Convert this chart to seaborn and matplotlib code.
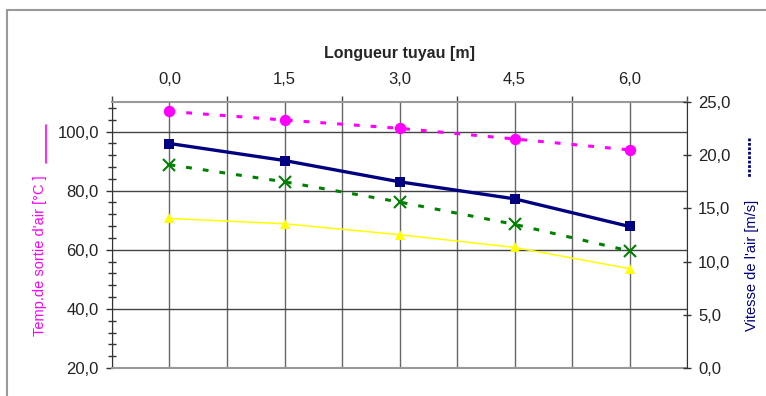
import matplotlib
matplotlib.use("Agg")
import matplotlib.pyplot as plt
import matplotlib.ticker as mticker
from matplotlib.lines import Line2D
import seaborn as sns

# data
longueur = [0.0, 1.5, 3.0, 4.5, 6.0]               # Longueur tuyau [m]
temp_sortie = [106.8, 103.9, 101.1, 97.5, 93.8]    # magenta, left axis [°C]
temp_entree = [70.6, 68.8, 65.1, 60.8, 53.6]       # yellow, left axis [°C]
vitesse_air = [21.1, 19.5, 17.5, 15.9, 13.3]       # navy, right axis [m/s]
vitesse_min = [19.1, 17.5, 15.6, 13.5, 11.0]       # green, right axis [m/s]

x_ticks = [0.0, 1.5, 3.0, 4.5, 6.0]
x_grid = [-0.75, 0.75, 2.25, 3.75, 5.25, 6.75]

sns.set_style("white")
plt.rcParams['font.family'] = ['Liberation Sans', 'DejaVu Sans']

comma = mticker.FuncFormatter(lambda v, p: f"{v:.1f}".replace('.', ','))

fig = plt.figure(figsize=(7.66, 3.96), dpi=100)
fig.patch.set_facecolor('white')
ax = fig.add_axes([0.1462, 0.0707, 0.7507, 0.6717])
ax2 = ax.twinx()

# left axis series
sns.lineplot(x=longueur, y=temp_sortie, ax=ax, color='#ff00ff', lw=2.2,
             linestyle=(0, (1.9, 3.6)), marker='o', markersize=8.2,
             markeredgecolor='#ff00ff', markeredgewidth=0)
sns.lineplot(x=longueur, y=temp_entree, ax=ax, color='#ffff00', lw=1.1,
             marker='^', markersize=7, markeredgecolor='#ffff00',
             markeredgewidth=0)

# right axis series
sns.lineplot(x=longueur, y=vitesse_air, ax=ax2, color='#000080', lw=2.4,
             marker='s', markersize=7.2, markeredgecolor='#000080',
             markeredgewidth=0)
sns.lineplot(x=longueur, y=vitesse_min, ax=ax2, color='#008000', lw=2.2,
             linestyle=(0, (1.9, 3.6)), marker='x', markersize=8.6,
             markeredgecolor='#008000', markeredgewidth=1.5)

ax.set_xlim(-0.75, 6.75)
ax.set_ylim(20, 110)
ax2.set_ylim(0, 25)

# x axis on top
ax.xaxis.tick_top()
ax.xaxis.set_label_position('top')
ax.set_xticks(x_ticks)
ax.set_xticks(x_grid, minor=True)
ax.xaxis.set_major_formatter(comma)
ax.tick_params(axis='x', which='major', length=0, pad=11, labelsize=12,
               colors='#222222')
ax.tick_params(axis='x', which='minor', length=4, width=1, direction='out',
               color='#444444', top=True, bottom=False)
ax.set_xlabel('Longueur tuyau [m]', fontsize=11.5, fontweight='bold',
              labelpad=10)

# left y axis
ax.yaxis.set_major_locator(mticker.MultipleLocator(20))
ax.yaxis.set_minor_locator(mticker.MultipleLocator(4))
ax.yaxis.set_major_formatter(comma)
ax.tick_params(axis='y', which='major', length=4.5, width=1, direction='out',
               color='#333333', labelsize=12, labelcolor='#222222', pad=5)
ax.tick_params(axis='y', which='minor', length=6, width=1, direction='inout',
               color='#333333', left=True)
ax.set_ylabel('')

# right y axis
ax2.yaxis.set_major_locator(mticker.MultipleLocator(5))
ax2.yaxis.set_major_formatter(comma)
ax2.tick_params(axis='y', which='major', length=6, width=1, direction='inout',
                color='#333333', labelsize=12, labelcolor='#222222', pad=5)
ax2.set_ylabel('')

# grid
ax.grid(which='both', axis='x', color='#666666', lw=1)
ax.grid(which='major', axis='y', color='#444444', lw=1)
ax.set_axisbelow(True)

for s in ['top', 'bottom']:
    ax.spines[s].set_color('#999999')
    ax.spines[s].set_linewidth(1.5)
ax.spines['left'].set_color('#333333')
ax.spines['right'].set_visible(False)
for s in ['top', 'bottom', 'left']:
    ax2.spines[s].set_visible(False)
ax2.spines['right'].set_color('#333333')

# axis titles with their legend keys
fig.text(40 / 766, 1 - 256 / 396, "Temp.de sortie d'air [°C ]", rotation=90,
         color='#ff00ff', fontsize=10.5, ha='center', va='center')
fig.add_artist(Line2D([46 / 766, 46 / 766], [1 - 125 / 396, 1 - 163 / 396],
                      color='#ff00ff', lw=1.2, transform=fig.transFigure))
fig.text(752 / 766, 1 - 265 / 396, "Vitesse de l'air [m/s]", rotation=90,
         color='#000080', fontsize=10.5, ha='center', va='center')
fig.add_artist(Line2D([749 / 766, 749 / 766], [1 - 138 / 396, 1 - 178 / 396],
                      color='#000080', lw=2, linestyle=(0, (1, 0.6)),
                      transform=fig.transFigure))

# outer frame
fig.add_artist(Line2D([7 / 766, 7 / 766], [0, 1 - 9.5 / 396], color='#999999',
                      lw=1.5, transform=fig.transFigure))
fig.add_artist(Line2D([7 / 766, 1], [1 - 9.5 / 396, 1 - 9.5 / 396],
                      color='#999999', lw=1.5, transform=fig.transFigure))

fig.savefig('out.png', dpi=100)
